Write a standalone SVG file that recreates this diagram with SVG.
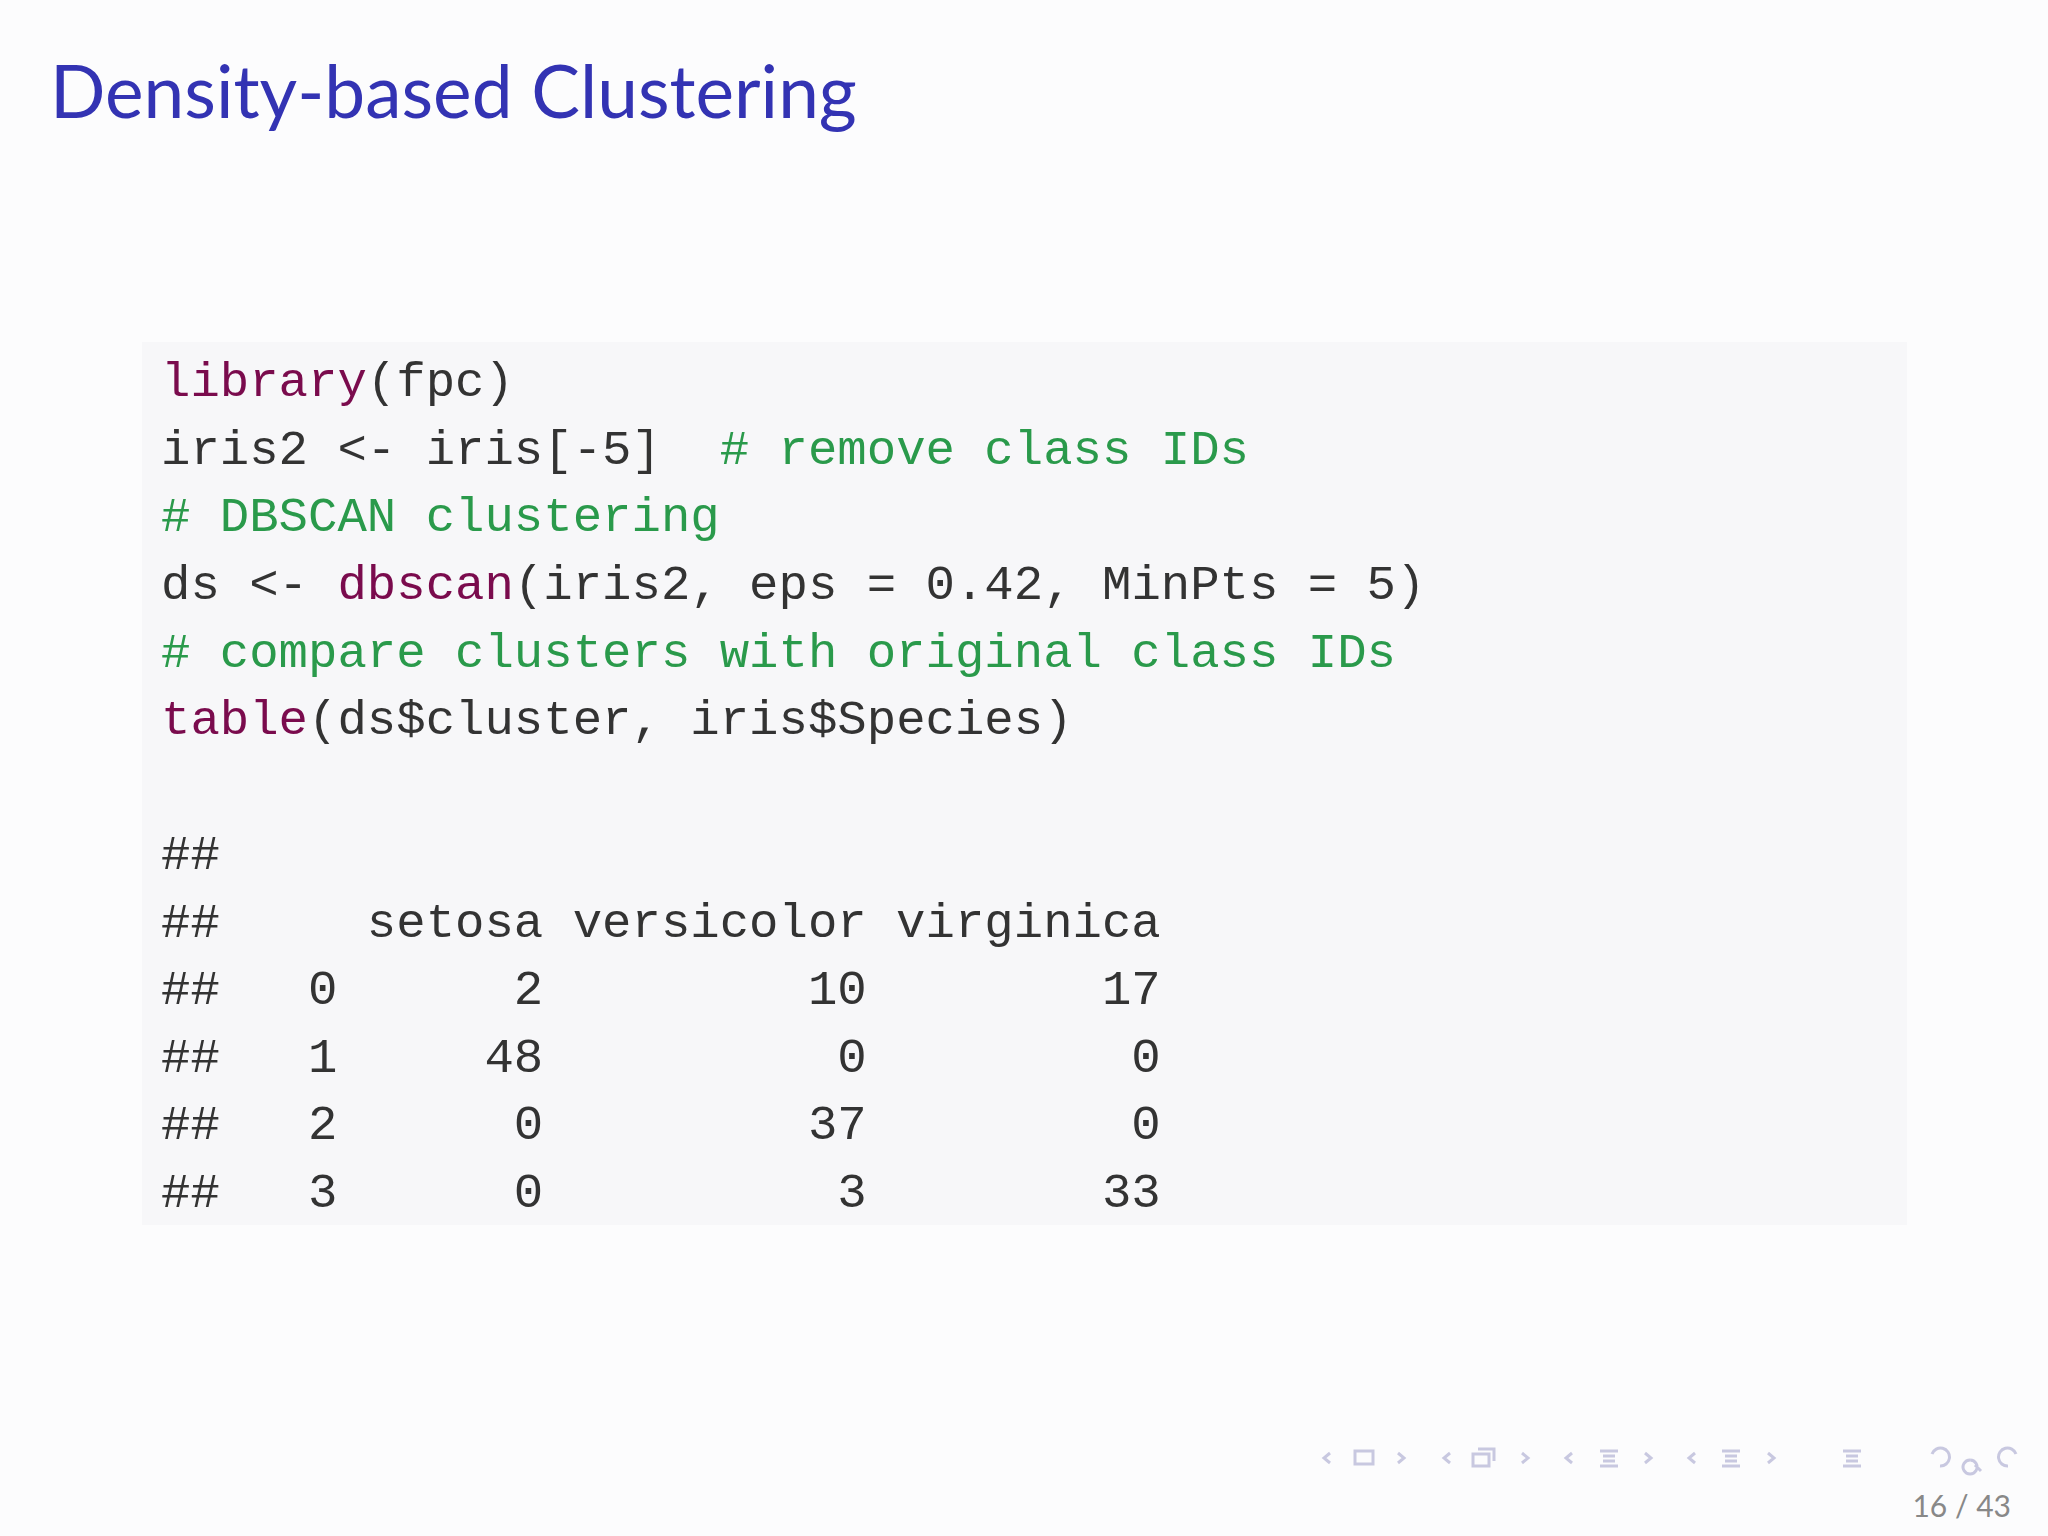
<svg xmlns="http://www.w3.org/2000/svg" width="2048" height="1536" viewBox="0 0 2048 1536">
<style>
.c{font-family:"Liberation Mono",monospace;font-size:49px;fill:#333;white-space:pre}
.k{fill:#7a0b4d}.g{fill:#2a9a4b}
.nav{fill:none;stroke:#c8c8e0;stroke-width:3}
</style>
<rect width="2048" height="1536" fill="#fcfcfd"/>
<text x="50" y="118" font-family="Lato,'Noto Sans',sans-serif" font-size="73" fill="#3333b3">Density-based Clustering</text>
<g id="code">
<rect x="142" y="342" width="1765" height="883" fill="#f7f7f9"/>
<text class="c" xml:space="preserve"><tspan x="161" y="396"><tspan class="k">library</tspan>(fpc)</tspan><tspan x="161" y="464">iris2 &lt;- iris[-5]  <tspan class="g"># remove class IDs</tspan></tspan><tspan x="161" y="531" class="g"># DBSCAN clustering</tspan><tspan x="161" y="599">ds &lt;- <tspan class="k">dbscan</tspan>(iris2, eps = 0.42, MinPts = 5)</tspan><tspan x="161" y="667" class="g"># compare clusters with original class IDs</tspan><tspan x="161" y="734"><tspan class="k">table</tspan>(ds$cluster, iris$Species)</tspan><tspan x="161" y="869">##</tspan><tspan x="161" y="937">##     setosa versicolor virginica</tspan><tspan x="161" y="1004">##   0      2         10        17</tspan><tspan x="161" y="1072">##   1     48          0         0</tspan><tspan x="161" y="1139">##   2      0         37         0</tspan><tspan x="161" y="1207">##   3      0          3        33</tspan></text>
</g>
<g id="nav">
<path class="nav" d="M1330 1453l-6 5 6 5M1355 1451h18v13h-18zM1398 1453l6 5-6 5M1450 1453l-6 5 6 5M1473 1454h16v12h-16zM1478 1449h16v12M1522 1453l6 5-6 5M1572 1453l-6 5 6 5M1600 1451h18M1603 1456h12M1603 1461h12M1600 1466h18M1645 1453l6 5-6 5M1695 1453l-6 5 6 5M1722 1451h18M1725 1456h12M1725 1461h12M1722 1466h18M1768 1453l6 5-6 5M1843 1451h18M1846 1456h12M1846 1461h12M1843 1466h18M1940 1466a9 9 0 1 0-8-12M1970 1460a7 7 0 1 0 0.1 0M1975 1465l6 6M2008 1466a9 9 0 1 1 8-12"/>
<text x="2011" y="1517" text-anchor="end" font-family="Lato,'Noto Sans',sans-serif" font-size="30" fill="#888">16 / 43</text>
</g>
</svg>
